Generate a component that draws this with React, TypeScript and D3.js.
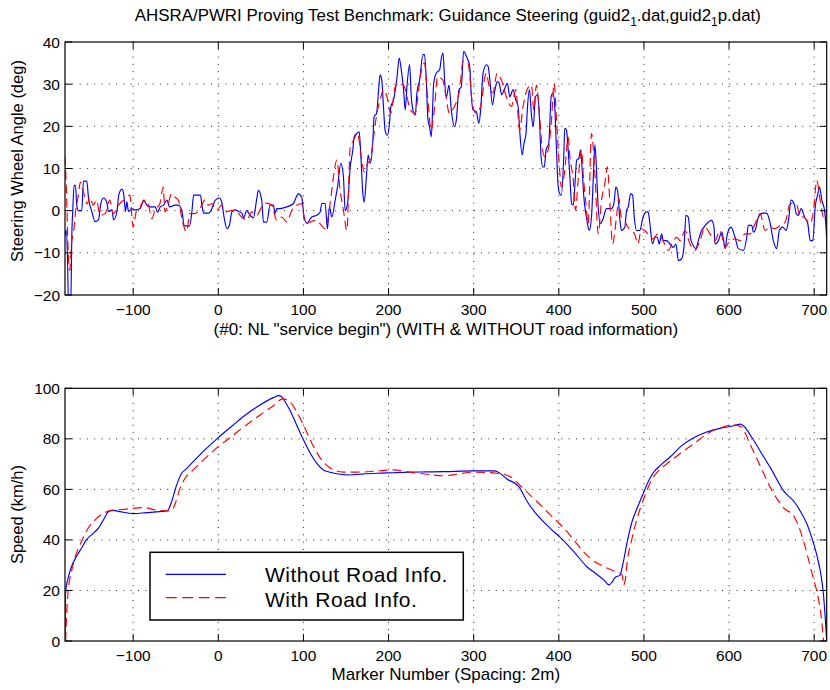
import React from "react";
import * as d3 from "d3";

const xTicks = [-100, 0, 100, 200, 300, 400, 500, 600, 700];
const steerTicks = [-20, -10, 0, 10, 20, 30, 40];
const speedTicks = [0, 20, 40, 60, 80, 100];

// Steering wheel angle (deg) vs marker number, WITHOUT road information
const steerWithout: [number, number][] = [
  [-180.1, -6], [-178.8, -4.6], [-177.3, -10], [-176, -22], [-173.3, -22], [-172, -5], [-171, 0],
  [-169.4, 6], [-167.8, 6], [-166.3, 1.3], [-164.3, 0], [-160.4, 0], [-158.4, 7], [-154.5, 7],
  [-152.5, 3], [-148.6, -0.2], [-144.7, -2.6], [-140.8, -2.2], [-138, 1.7], [-134.9, 3], [-131, 2],
  [-129, -0.2], [-125, 0.2], [-123, -2.2], [-119, -0.2], [-117, 3.7], [-113, 5.1], [-111, 3.7],
  [-109, -0.2], [-107.5, 2.1], [-105.5, -0.2], [-101.6, 0.5], [-97.6, 0.2], [-91.8, 0.5],
  [-87.8, 2.5], [-83.9, 1.3], [-80, 0.9], [-74, 0.9], [-71.4, -0.4], [-68.2, 0.9], [-64.3, 1.3],
  [-60.4, 2.5], [-57.3, 0.9], [-50.6, 1.3], [-46.7, 1.3], [-42.7, -0.2], [-40, -3.6], [-33.7, -3.6],
  [-31, -0.2], [-29, 3.7], [-21, 3.7], [-19.2, 1.3], [-17.3, -0.6], [-11.4, -0.6], [-7.5, 0.5],
  [-3.5, 2.5], [1.6, 3.0], [4.3, 1.7], [7, -1.8], [10.2, -4.3], [13, -3.5], [16, -0.2], [20, 0.2],
  [24, -0.2], [27.8, -0.6], [29.8, -1.8], [33.3, 0], [37.3, -1.1], [41.2, -1.7], [45, 2.6],
  [47, 4.8], [51, 2.5], [53, -2.7], [56.9, -2.7], [60.8, 1.3], [64.7, 1.3], [66.7, -0.7],
  [68.6, 0.5], [72.5, 0.5], [80.4, 0.9], [88.2, 1.7], [94, 4], [98, 3.2], [100.8, -1.5], [104, -3],
  [109.8, -1.5], [115.7, -1.1], [119.6, -0.3], [121.6, 1.7], [125.5, 1.7], [128.2, -4.3],
  [130.6, 0.9], [133.3, -1.5], [137.3, 2.5], [140, 5.6], [144, 11.2], [147, 8], [149, 0],
  [151.8, 1.6], [155, 10.4], [158, 14.4], [159.6, 17.5], [162.7, 18.3], [165.5, 18.7], [167.5, 12.8],
  [169.8, 4], [171.4, 2], [173.7, 7.2], [176, 13.2], [178.4, 11.2], [181.6, 16.7], [183, 22.3],
  [186, 23.1], [188, 27.9], [190, 32.2], [192, 31], [194, 24.7], [196, 19], [198.8, 17.9],
  [201, 20.6], [202.7, 24.7], [205.9, 26.3], [209.8, 31.4], [212.5, 36.2], [214.9, 33.5],
  [217.6, 28.7], [219.6, 23.9], [221.6, 29.4], [224.7, 34.6], [226.7, 27], [228.6, 23.9],
  [231.4, 22.7], [233.3, 27.9], [236.5, 31], [240.4, 37], [242.3, 37], [244.3, 31], [246.3, 21.5],
  [248.2, 19.9], [250.2, 17.5], [253, 30.2], [256, 32.6], [260, 33.4], [262, 36.2], [264, 37.4],
  [266, 30.2], [268, 27], [271, 29.8], [273.7, 23.9], [277.6, 19.9], [279.6, 21.5], [282.7, 28.7],
  [285.5, 29.4], [288.2, 37.8], [291.4, 36.6], [295.3, 34.2], [297.3, 27], [299.2, 23.9],
  [303.1, 23.5], [306, 20.7], [308.2, 23.9], [311, 32.6], [315, 34.6], [317, 34.2], [319, 31],
  [322, 25.1], [325, 28.7], [327.8, 30.6], [330, 30.2], [332.8, 27.5], [336.5, 29], [339.6, 30.2],
  [342.4, 27], [346.3, 28.7], [349.4, 26.3], [352.2, 24.7], [354, 19.1], [357, 13.2], [359, 15.9],
  [361.5, 18.3], [363, 23.9], [365.5, 28.7], [368, 22.3], [370, 19.9], [372.5, 27], [375.3, 27.5],
  [377.3, 21.5], [379.2, 12.8], [381.2, 10.4], [383, 10.4], [385, 14.4], [388.2, 16], [391, 27],
  [393, 27.9], [395, 25.5], [397, 15.9], [399, 6.4], [401, 4], [403, 3.7], [405.8, 12.8], [407, 19.5],
  [409, 19.1], [411, 14.4], [413, 8], [415, 1.7], [417, 1.3], [419, 6.4], [421, 12], [423.5, 12.4],
  [425.5, 14.4], [427.5, 9.6], [429.4, 3.2], [431.8, -0.7], [433.7, -3.1], [435.7, -4.7],
  [438.4, -1.5], [440.4, 7.2], [442.4, 15.6], [444.3, 9.6], [446, 1.7], [449, -3.1], [452, -1.9],
  [456, 0.5], [462, 0.5], [464.7, 1.7], [467, 5.6], [469, 4.8], [471.8, -2.3], [473.7, -4.7],
  [477.6, -3.9], [479.6, 0.1], [481.6, 0.9], [484.3, 4], [486.7, 3.7], [488.6, -1.5], [491.4, -4.7],
  [495, -4.7], [499, -1.5], [503, -0.3], [505, -0.3], [507, -3.1], [510, -7.9], [513, -6.3],
  [515.7, -6.3], [518, -7.9], [520.8, -5.5], [522.7, -7.1], [526.7, -7.1], [530.6, -7.9],
  [534.5, -8.7], [537.6, -7.9], [540.4, -11.8], [544.3, -11.4], [547, -8.7], [549.4, -1.1],
  [552, -1.5], [554.9, -6.7], [558, -8.3], [561, -9.0], [563.9, -7.1], [567.8, -4.7], [570.6, -3.9],
  [573.7, -3.1], [579.6, -2.3], [582.3, -3.9], [583.5, -7.9], [587.5, -7.1], [591.4, -5.1],
  [593.3, -6.7], [595.3, -9.0], [597.3, -6.3], [599.2, -4.7], [602.3, -3.9], [607, -6.3], [611, -9.0],
  [617, -9.4], [620.8, -6.3], [622.7, -3.5], [626.7, -3.5], [628.6, -5.1], [630.6, -4.7],
  [634.5, -1.5], [640, -0.6], [644, -0.6], [648, -2.7], [652, -7.1], [656, -9.0], [659, -4.7],
  [663, -3.9], [667, -4.7], [669.8, -2.3], [672.9, 2.5], [676.9, 1.3], [678.8, -0.7], [681.6, -1.1],
  [684.7, 0.5], [688.6, -1.5], [692.5, -3.1], [695.3, -7.1], [698.4, -7.1], [701.2, 0.9], [704.3, 4],
  [706.3, 5.6], [709, 2.5], [712.2, 0], [714.1, -4.7], [715, -8.3],
];

// Steering wheel angle (deg), WITH road information
const steerWith: [number, number][] = [
  [-180.1, 12.8], [-178.4, 4.8], [-176.5, -8.7], [-174.5, -14.2], [-172.5, -7.9], [-169.8, -4.7],
  [-167.5, 0.1], [-164.7, 3.3], [-162, 6.8], [-159.6, 5.6], [-156.9, 3.2], [-154, 1.6], [-151, 3.2],
  [-147, 1.3], [-143, 2.5], [-139, -1.1], [-133, -0.7], [-127.5, 2.5], [-123.5, -0.7], [-115.7, 1.7],
  [-107.8, 2.9], [-104, 3.7], [-100, -3.9], [-96, 0.1], [-92, 0.9], [-86, 2.5], [-82, 1.3],
  [-78, -1.9], [-74.5, 0.1], [-68.6, 1.7], [-64.7, 5.6], [-62.7, -0.3], [-58.8, 1.7], [-54.9, 4],
  [-51, 3.2], [-47, 2.5], [-42, -2.7], [-37.3, -5.0], [-33.3, -0.7], [-27.5, -0.7], [-21.6, 0.5],
  [-15.7, 2.5], [-11.8, 1.3], [-7.8, 1.7], [-2, 0.1], [3.9, 1.3], [9.8, -0.3], [15.7, 0.1],
  [21.6, -0.3], [27.5, -1.5], [33.3, -2.3], [39.2, -0.3], [45.1, -1.1], [51, 0.9], [56.9, 1.8],
  [62.7, 1.3], [68.6, -2.3], [74.5, -1.5], [80.4, -2.7], [86.3, 0.1], [92.2, 1.3], [98, 1.7],
  [102, -3.1], [107.8, -2.7], [113.7, -2.3], [119.6, -3.1], [125.5, -4.3], [131.4, 1.7], [135.3, 8],
  [139.2, 12], [143.1, 4.8], [147, 0.1], [151, -4.7], [155, 15.2], [158.8, 16.7], [163.5, 18.3],
  [167.5, 13.5], [171.4, 9.2], [175.3, 11.2], [178.4, 12], [182.4, 17.5], [186.3, 23.1],
  [190.2, 26.3], [194, 28.7], [198, 27.1], [202.7, 23.1], [207.8, 29.4], [211.8, 30.2],
  [217.6, 29.8], [221.6, 27.1], [225.5, 23.9], [231.4, 23.1], [235.3, 28.6], [238, 32.6], [242, 35],
  [245.9, 27], [250, 19.1], [253.7, 23.9], [257.6, 31.8], [263.5, 31], [267.5, 27], [271.4, 23.1],
  [277.3, 24.7], [283.5, 28.7], [287.5, 35.4], [293.3, 35], [299, 24.7], [303, 23.1], [308.6, 25.1],
  [314.5, 32.6], [318.4, 29.4], [322.4, 27.9], [327.5, 32.6], [332.5, 31], [338.4, 27],
  [344.3, 24.7], [349.4, 28.7], [354, 19.1], [358, 24.7], [362.7, 28.7], [367.8, 29.8],
  [370.6, 23.9], [373.7, 29.8], [376.9, 23.9], [380, 15.9], [383.5, 12.8], [387.5, 14.4],
  [391.4, 21.5], [394.5, 30.2], [397.3, 21.5], [400.4, 11.2], [403, 5.6], [407, 9.6], [411, 17.5],
  [413, 12.8], [417, 7.2], [419.6, 0.1], [422.7, 7.2], [426.7, 14.4], [428.6, 8.8], [431.8, 1.7],
  [434.5, -3.1], [438.4, 18.3], [442.4, 8.8], [446.3, -5.5], [450.2, 2.5], [454, 6.4], [457, 10.4],
  [460, 1.7], [463, -7.9], [467.8, -1.5], [470.6, 2.9], [473.3, -1.5], [477.3, -2.3], [481, -3.9],
  [485, -4.7], [489, -5.5], [493, -7.9], [496.9, -4.3], [500.8, -4.7], [504.7, -5.5], [510.6, -6.7],
  [516.5, -5.5], [522.4, -7.1], [528.6, -9.4], [534.5, -7.1], [538.4, -6.3], [542.4, -7.1],
  [548.2, -4.7], [554, -7.9], [560, -9.4], [565.9, -7.1], [571.8, -3.9], [577.6, -5.5],
  [583.5, -7.1], [589.4, -4.7], [595.3, -8.7], [601, -7.1], [607, -6.7], [612.9, -7.1],
  [618.8, -5.5], [624.7, -5.5], [630.6, -3.1], [636.5, -0.7], [642.4, -4.7], [648.2, -3.9],
  [654, -4.3], [660, -3.5], [665.9, -2.7], [671.8, 1.7], [675.7, 1.7], [679.6, 1.3], [683.5, -1.5],
  [687.5, -1.5], [691.4, -2.3], [695.3, -3.1], [699.2, 0.1], [703, 7.2], [707, 2.5], [711, -1.5],
  [714.9, 0.1],
];

// Speed (km/h), WITHOUT road information
const speedWithout: [number, number][] = [
  [-180.1, 0], [-179.8, 17], [-179, 20.5], [-176.5, 24.8], [-172.5, 29.4], [-166.7, 33.4],
  [-160.8, 36.7], [-155, 40], [-147, 42.6], [-141, 44.6], [-135, 47.9], [-128, 51.5], [-123.5, 51.7],
  [-115.7, 51.2], [-100, 50.4], [-84, 50.8], [-68.6, 51.2], [-60, 51.5], [-55, 55], [-49, 61.7],
  [-43, 66.4], [-39, 67.7], [-29.4, 71], [-13.7, 76.3], [0, 80.5], [17.6, 85.5], [33, 89.7],
  [49, 93.4], [64.7, 96.3], [70.6, 97.1], [74.5, 96.7], [78.4, 94.7], [84, 91.4], [92, 85.5],
  [100, 79.6], [108, 74.3], [115.7, 70.3], [123.5, 67.7], [131, 66.8], [143, 66], [155, 65.7],
  [167, 66], [186, 66.4], [206, 66.6], [225, 66.8], [245, 66.9], [265, 67], [300, 67.3],
  [323.5, 67.3], [329, 66.8], [339, 64.1], [353, 61.1], [363, 55.1], [374.5, 49.9], [390, 44.6],
  [402, 40.9], [417.6, 35.4], [433, 29.4], [443, 26.8], [453, 24.1], [459, 22.2], [463, 23.5],
  [466, 25.1], [472, 26.1], [475, 30], [480.4, 39.3], [486, 47.2], [492, 52.5], [500, 59.1],
  [506, 63.7], [512, 67], [520, 69.7], [531.4, 73], [543, 76.9], [559, 80.5], [574.5, 82.8],
  [590, 84.2], [606, 85.2], [613, 85.8], [618, 84.8], [625, 81.5], [637, 74.9], [649, 68.3],
  [664.7, 59.1], [676.5, 55.1], [684, 51.2], [692, 45.9], [698, 40], [704, 32.7], [708, 26.1],
  [711, 18], [713, 9], [714.7, 0],
];

// Speed (km/h), WITH road information
const speedWith: [number, number][] = [
  [-179.4, 0], [-178.4, 9], [-176.5, 19.5], [-172.5, 27.4], [-168.6, 32.7], [-160.8, 39.3],
  [-153, 44.6], [-143, 48.5], [-135, 50.5], [-127.5, 51.5], [-108, 52.2], [-88, 52.8],
  [-72.5, 51.8], [-55, 51.5], [-50, 55], [-45, 60.4], [-39, 64.4], [-29.4, 67.7], [-17.6, 71.6],
  [0, 76.9], [17.6, 81.5], [33, 85.5], [49, 89.4], [64.7, 93.1], [75.7, 95.8], [84, 94.7],
  [92, 90.8], [100, 85.5], [110, 78.2], [120, 72.3], [131, 68.6], [147, 66.8], [167, 66.8],
  [186, 67.3], [206, 67.7], [225, 66.8], [245, 66], [265, 65.4], [280, 66], [300, 66.8],
  [327.5, 66.4], [343, 65], [358, 60.4], [374.5, 55.1], [390, 49.9], [406, 44.6], [417.6, 40],
  [425.5, 36.7], [437, 32.7], [453, 29.4], [466.7, 27.4], [474.5, 26.1], [476, 22.2], [478, 24],
  [480.4, 31.4], [486, 40.6], [492, 48.5], [500, 56.5], [508, 63], [515.7, 66.8], [527.5, 70.3],
  [543, 74.3], [559, 78.2], [574.5, 82.1], [590, 84.4], [606, 85.5], [614, 84.8], [625, 77.6],
  [637, 69], [649, 60.4], [664.7, 52.5], [676.5, 49.2], [684, 43.3], [692, 34], [698, 26.1],
  [704, 18.2], [708, 10.3], [711, 0],
];

const FONT = "'Liberation Sans', Arial, Helvetica, sans-serif";
const BLUE = "#0000ff";
const RED = "#ff0000";
const DASH = "9,5";

const L = 65, R = 826.7;
const fmt = (v: number) => (v < 0 ? "\u2212" + Math.abs(v) : String(v));

function Panel({ id, top, bottom, yDomain, yTicks, series, ylabel, ylabelY, xlabel, xlabelY }: any) {
  const x = d3.scaleLinear().domain([-180.1, 714.7]).range([L, R]);
  const y = d3.scaleLinear().domain(yDomain).range([bottom, top]);
  const line = d3.line<[number, number]>().x((d) => x(d[0])).y((d) => y(d[1])).curve(d3.curveMonotoneX);
  const tl = 7;
  return (
    <g>
      <defs>
        <clipPath id={id}>
          <rect x={L} y={top} width={R - L} height={bottom - top} />
        </clipPath>
      </defs>
      <rect x={L} y={top} width={R - L} height={bottom - top} fill="#fff" />
      {xTicks.map((t) => (
        <line key={"gx" + t} x1={x(t)} x2={x(t)} y1={top} y2={bottom} stroke="#222" strokeWidth={1} strokeDasharray="1,6.3" />
      ))}
      {yTicks.filter((t: number) => t !== yDomain[0] && t !== yDomain[1]).map((t: number) => (
        <line key={"gy" + t} x1={L} x2={R} y1={y(t)} y2={y(t)} stroke="#222" strokeWidth={1} strokeDasharray="1,6.3" />
      ))}
      <g clipPath={`url(#${id})`}>
        {series.map((s: any, i: number) => (
          <path key={i} d={line(s.data) || ""} fill="none" stroke={s.color} strokeWidth={1.15}
            strokeDasharray={s.dash || undefined} strokeLinejoin="round" />
        ))}
      </g>
      {xTicks.map((t) => (
        <g key={"tx" + t}>
          <line x1={x(t)} x2={x(t)} y1={bottom} y2={bottom - tl} stroke="#000" />
          <line x1={x(t)} x2={x(t)} y1={top} y2={top + tl} stroke="#000" />
          <text x={x(t)} y={bottom + 20} textAnchor="middle" fontSize={15.5} fontFamily={FONT}>{fmt(t)}</text>
        </g>
      ))}
      {yTicks.map((t: number) => (
        <g key={"ty" + t}>
          <line x1={L} x2={L + tl} y1={y(t)} y2={y(t)} stroke="#000" />
          <line x1={R} x2={R - tl} y1={y(t)} y2={y(t)} stroke="#000" />
          <text x={L - 5} y={y(t) + 5.5} textAnchor="end" fontSize={15.5} fontFamily={FONT}>{fmt(t)}</text>
        </g>
      ))}
      <rect x={L} y={top} width={R - L} height={bottom - top} fill="none" stroke="#000" strokeWidth={1.2} />
      <text transform={`translate(23,${ylabelY}) rotate(-90)`} textAnchor="middle" fontSize={16.5} fontFamily={FONT}>{ylabel}</text>
      <text x={(L + R) / 2} y={xlabelY} textAnchor="middle" fontSize={17} fontFamily={FONT}>{xlabel}</text>
    </g>
  );
}

export default function App() {
  return (
    <svg width={830} height={690} style={{ position: "absolute", left: 0, top: 0, background: "#fff" }}>
      <rect width={830} height={690} fill="#fff" />
      <text x={(L + R) / 2 + 2} y={21} textAnchor="middle" fontSize={16.9} fontFamily={FONT}>
        AHSRA/PWRI Proving Test Benchmark: Guidance Steering (guid2
        <tspan fontSize={12} dy={5}>1</tspan>
        <tspan dy={-5}>.dat,guid2</tspan>
        <tspan fontSize={12} dy={5}>1</tspan>
        <tspan dy={-5}>p.dat)</tspan>
      </text>
      <Panel id="clipTop" top={42} bottom={295} yDomain={[-20, 40]} yTicks={steerTicks}
        series={[{ data: steerWithout, color: BLUE }, { data: steerWith, color: RED, dash: DASH }]}
        ylabel="Steering Wheel Angle (deg)" ylabelY={161}
        xlabel={'(#0: NL "service begin") (WITH & WITHOUT road information)'} xlabelY={335} />
      <Panel id="clipBot" top={388.3} bottom={641} yDomain={[0, 100]} yTicks={speedTicks}
        series={[{ data: speedWithout, color: BLUE }, { data: speedWith, color: RED, dash: DASH }]}
        ylabel="Speed (km/h)" ylabelY={514.6}
        xlabel="Marker Number (Spacing: 2m)" xlabelY={680} />
      <rect x={150} y={552.3} width={313.3} height={67.7} fill="#fff" stroke="#000" strokeWidth={1.5} />
      <line x1={165.7} x2={226} y1={574.3} y2={574.3} stroke={BLUE} strokeWidth={1.2} />
      <line x1={165.7} x2={226} y1={597.7} y2={597.7} stroke={RED} strokeWidth={1.2} strokeDasharray="11,5.5" />
      <text x={265} y={581.5} fontSize={21} letterSpacing={0.5} fontFamily={FONT}>Without Road Info.</text>
      <text x={265} y={606.5} fontSize={21} letterSpacing={0.5} fontFamily={FONT}>With Road Info.</text>
    </svg>
  );
}
